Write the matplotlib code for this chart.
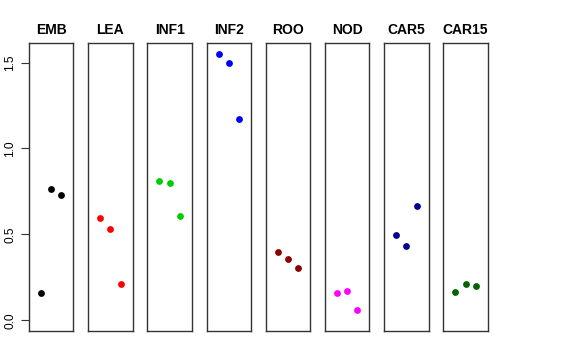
import numpy as np
import matplotlib.pyplot as plt

plt.rcParams['font.family'] = ['Liberation Sans', 'DejaVu Sans']

groups = ['EMB', 'LEA', 'INF1', 'INF2', 'ROO', 'NOD', 'CAR5', 'CAR15']
emb = [0.159, 0.762, 0.728]
lea = [0.596, 0.530, 0.211]
inf1 = [0.813, 0.797, 0.607]
inf2 = [1.548, 1.500, 1.169]
roo = [0.397, 0.358, 0.302]
nod = [0.160, 0.168, 0.058]
car5 = [0.497, 0.433, 0.664]
car15 = [0.166, 0.211, 0.199]
values = [emb, lea, inf1, inf2, roo, nod, car5, car15]
colors = ['black', 'red', '#00CD00', 'blue', '#8B0000', '#FF00FF', '#00008B', '#006400']

W, H = 576, 360
fig = plt.figure(figsize=(W / 100, H / 100), dpi=100)

ylo, yhi = 0, 1.55
pad = (yhi - ylo) * 0.04
left0 = 29.0
pw = 44.4
step = 59.2
top, bot = 43.3, 331.0

for i, (g, v, c) in enumerate(zip(groups, values, colors)):
    ax = fig.add_axes([(left0 + i * step) / W, (H - bot) / H, pw / W, (bot - top) / H])
    ax.scatter([1, 2, 3], v, s=24, color=c, zorder=3, linewidths=0)
    ax.set_xlim(-0.16, 4.16)
    ax.set_ylim(ylo - pad, yhi + pad)
    ax.set_xticks([])
    for sp in ax.spines.values():
        sp.set_color('#333333')
        sp.set_linewidth(1.0)
    ax.set_title(g, fontsize=10, fontweight='bold', pad=6.7)
    if i == 0:
        ax.set_yticks([0.0, 0.5, 1.0, 1.5])
        ax.set_yticklabels(['0.0', '0.5', '1.0', '1.5'], rotation=90, va='center', fontsize=8.6)
        ax.tick_params(axis='y', length=5.8, width=0.8, color='#333333', pad=3.4)
    else:
        ax.set_yticks([])

fig.savefig('out.png', dpi=100)
